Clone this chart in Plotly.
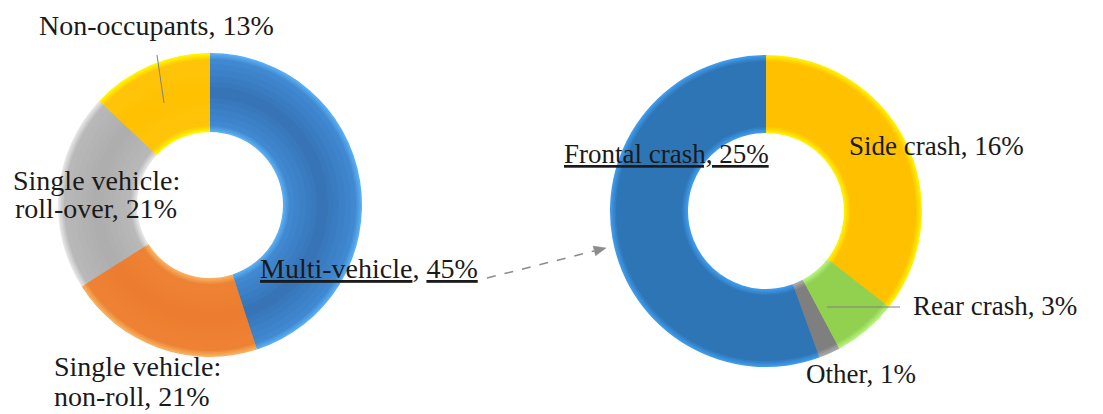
import plotly.graph_objects as go

W, H = 1103, 414

# Fatality shares by crash configuration (%)
crash_types = ["Multi-vehicle", "Single vehicle: non-roll", "Single vehicle: roll-over", "Non-occupants"]
crash_shares = [45, 21, 21, 13]

# Breakdown of the multi-vehicle share by impact direction (%)
impact_types = ["Side crash", "Rear crash", "Other", "Frontal crash"]
impact_shares = [16, 3, 1, 25]

# slice colours: rim highlight, body, ring centre
left_edge = ["#5AAEF2", "#F8B060", "#E4E4E4", "#FFF500"]
left_body = ["#4088D0", "#EE8234", "#B8B8B8", "#FFC40A"]
left_core = ["#3470B2", "#EC7C2F", "#ACACAC", "#FFC000"]
right_edge = ["#FFF000", "#B4F27C", "#A8A8A8", "#3F9AEA"]
right_body = ["#FFC000", "#92D050", "#7F7F7F", "#2E75B6"]
right_core = right_body

FONT = "Liberation Serif"
TXT = "#1a1a1a"


def px(x, y):
    return x / W, 1 - y / H


def mix(c1, c2, t):
    a = [int(c1[i:i + 2], 16) for i in (1, 3, 5)]
    b = [int(c2[i:i + 2], 16) for i in (1, 3, 5)]
    return "#" + "".join(f"{round(p + (q - p) * t):02x}" for p, q in zip(a, b))


def ring(values, colors, cx, cy, r_out, r_in, inset):
    ro = r_out - inset
    ri = r_in + inset
    x0, y1 = px(cx - ro, cy - ro)
    x1, y0 = px(cx + ro, cy + ro)
    return go.Pie(
        values=values,
        sort=False,
        direction="clockwise",
        rotation=0,
        hole=ri / ro,
        domain=dict(x=[x0, x1], y=[y0, y1]),
        marker=dict(colors=colors, line=dict(width=0)),
        textinfo="none",
        hoverinfo="skip",
        showlegend=False,
    )


def shaded_donut(fig, values, edge, body, core, cx, cy, r_out, r_in, rim=6, insets=()):
    # soft bevel: concentric rings stepping from the rim colour to the body,
    # then on towards the centre colour of the band
    half = (r_out - r_in) / 2
    for d in insets:
        if d <= rim:
            cols = [mix(e, b, d / rim) for e, b in zip(edge, body)]
        else:
            t = min(1.0, (d - rim) / (half - rim))
            cols = [mix(b, c, t) for b, c in zip(body, core)]
        fig.add_trace(ring(values, cols, cx, cy, r_out, r_in, d))


fig = go.Figure()

# left donut: all fatalities
LCX, LCY, LR, LRI = 210, 205, 152, 73
shaded_donut(fig, crash_shares, left_edge, left_body, left_core, LCX, LCY, LR, LRI,
             rim=6, insets=(0, 1.5, 3, 4.5, 6, 11, 17, 23, 29, 34))

# right donut: multi-vehicle breakdown
RCX, RCY, RR, RRI = 766, 211, 156, 78
shaded_donut(fig, impact_shares, right_edge, right_body, right_core, RCX, RCY, RR, RRI,
             rim=6, insets=(0, 1.5, 3, 4.5, 6))

annotations = []


def label(text, x, baseline, size, anchor="left"):
    xp, yp = px(x, baseline - 0.335 * size)
    annotations.append(dict(
        text=text, x=xp, y=yp, xref="paper", yref="paper",
        xanchor=anchor, yanchor="middle", showarrow=False,
        font=dict(family=FONT, size=size, color=TXT),
    ))


def pct(v):
    return f"{v}%"


LFS, RFS = 28, 27

# left donut labels
label(f"<u>{crash_types[0]}</u>, <u>{pct(crash_shares[0])}</u>", 258, 278, LFS)
head, tail = crash_types[1].split(": ")
label(f"{head}:", 52, 376, LFS)
label(f"{tail}, {pct(crash_shares[1])}", 52, 406, LFS)
head, tail = crash_types[2].split(": ")
label(f"{head}:", 11, 190, LFS)
label(f"{tail}, {pct(crash_shares[2])}", 13, 218, LFS)
label(f"{crash_types[3]}, {pct(crash_shares[3])}", 37, 35, LFS)

# right donut labels
label(f"{impact_types[0]}, {pct(impact_shares[0])}", 847, 155, RFS)
label(f"{impact_types[1]}, {pct(impact_shares[1])}", 911, 315, RFS)
label(f"{impact_types[2]}, {pct(impact_shares[2])}", 804, 383, RFS)
label(f"<u>{impact_types[3]}, {pct(impact_shares[3])}</u>", 562, 163, RFS)

shapes = []


def seg(x0, y0, x1, y1, color, width, dash="solid"):
    a, b = px(x0, y0)
    c, d = px(x1, y1)
    shapes.append(dict(type="line", xref="paper", yref="paper", x0=a, y0=b, x1=c, y1=d,
                       line=dict(color=color, width=width, dash=dash)))


# leader lines
seg(157, 55, 164, 103, "#808080", 1)
seg(827, 307, 900, 307, "#808080", 1)

# dashed connector from the multi-vehicle slice to its breakdown
tx, ty = 606, 248
sx, sy = 487, 278
dx, dy = tx - sx, ty - sy
L = (dx * dx + dy * dy) ** 0.5
ux, uy = dx / L, dy / L
nx, ny = -uy, ux
hl, hw = 12, 5
bx, by = tx - hl * ux, ty - hl * uy
seg(sx, sy, bx, by, "#8c8c8c", 1.5, "dash")
pts = [(tx, ty), (bx + hw * nx, by + hw * ny), (bx - hw * nx, by - hw * ny)]
path = "M " + " L ".join(f"{px(x, y)[0]:.5f},{px(x, y)[1]:.5f}" for x, y in pts) + " Z"
shapes.append(dict(type="path", xref="paper", yref="paper", path=path,
                   fillcolor="#8c8c8c", line=dict(color="#8c8c8c", width=0.5)))

fig.update_layout(
    width=W, height=H,
    margin=dict(l=0, r=0, t=0, b=0),
    paper_bgcolor="white", plot_bgcolor="white",
    annotations=annotations,
    shapes=shapes,
)

fig.write_html("out.html")
